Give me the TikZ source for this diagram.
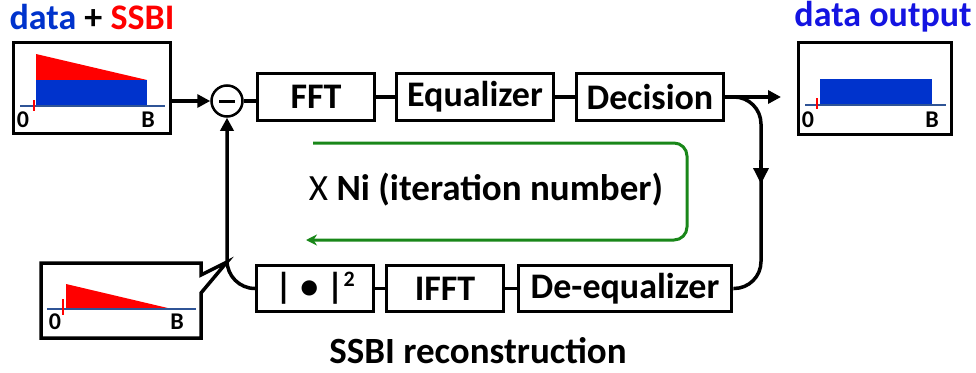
\documentclass[tikz,border=0pt]{standalone}
\usepackage{fontspec}
\setmainfont{Carlito}
\usetikzlibrary{arrows.meta}
\definecolor{dblue}{RGB}{0,51,204}
\definecolor{oblue}{RGB}{20,20,225}
\definecolor{axisc}{RGB}{47,84,150}
\definecolor{grn}{RGB}{25,135,25}
\begin{document}
\begin{tikzpicture}[x=1pt,y=-1pt,
  blk/.style={draw, line width=3.5pt, minimum height=47pt, inner sep=0pt, font=\fontsize{36}{40}\selectfont\bfseries},
  conn/.style={line width=3.5pt},
  bigarrow/.style={-{Triangle[length=13pt,width=13pt]}},
  plotbox/.style={draw, line width=3.5pt, inner sep=0pt},
  lbl/.style={font=\fontsize{24}{26}\selectfont\bfseries, inner sep=0pt},
  ttl/.style={font=\fontsize{36}{40}\selectfont\bfseries, inner sep=0pt},
  axisl/.style={axisc, line width=2.5pt},
  tick/.style={red, line width=1.5pt}
]
\useasboundingbox (0,0) rectangle (976,372);

% titles
\node[ttl] (t1) at (92,17) {\textcolor{dblue}{data} + \textcolor{red}{SSBI}};
\node[ttl, text=oblue] (t2) at (883,17) {data output};

% input spectrum box
\node[plotbox, minimum width=157pt, minimum height=91pt] (inbox) at (92,88) {};
\fill[red] (36,54) -- (147,80) -- (36,80) -- cycle;
\fill[dblue] (36,80) rectangle (147,106);
\draw[axisl] (20,106) -- (165,106);
\draw[tick] (34,100) -- (34,111);
\node[lbl] (i0) at (23,120) {0};
\node[lbl] (iB) at (148,120) {B};

% output spectrum box
\node[plotbox, minimum width=153pt, minimum height=92pt] (outbox) at (875,88.5) {};
\fill[dblue] (820,79) rectangle (932,105);
\draw[axisl] (805,105) -- (946,105);
\draw[tick] (817,98) -- (817,109);
\node[lbl] (o0) at (808,120) {0};
\node[lbl] (oB) at (932,120) {B};

% summing node
\node[circle, draw, line width=2.5pt, minimum size=31pt, inner sep=0pt] (sum) at (227,101) {\rule[-1.5pt]{16pt}{3pt}};

% top row
\node[blk, minimum width=117pt] (fft) at (316,97) {FFT};
\node[blk, minimum width=157pt] (eq) at (475,97) {Equalizer};
\node[blk, minimum width=147pt] (dec) at (650,97) {Decision};

% bottom row
\node[blk, minimum width=117pt, minimum height=46pt] (mag) at (315,288.5) {| • |\raisebox{12pt}{\fontsize{22}{22}\selectfont 2}};
\node[blk, minimum width=117pt, minimum height=46pt] (ifft) at (445,288.5) {IFFT};
\node[blk, minimum width=213pt, minimum height=46pt] (deq) at (625,288.5) {De-equalizer};

% connectors
\draw[conn, bigarrow] (inbox.east |- sum.west) -- (sum.west);
\draw[conn] (sum.east) -- (sum.east -| fft.west);
\draw[conn] (fft.east) -- (eq.west);
\draw[conn] (eq.east) -- (dec.west);
\coordinate (outtip) at (781,97);
\draw[conn, bigarrow] (dec.east) -- (outtip);
\coordinate (rc) at (761,200);
\draw[conn, rounded corners=27pt] (dec.east) -| (rc) |- (deq.east);
\coordinate (ah1) at (761,160);
\coordinate (ah2) at (761,184);
\draw[conn, -{Triangle[length=16pt,width=15pt]}] (ah1) -- (ah2);
\draw[conn] (deq.west) -- (ifft.east);
\draw[conn] (ifft.west) -- (mag.east);
\draw[conn, rounded corners=28pt, bigarrow] (mag.west) -| (sum.south);

% callout
\coordinate (tip) at (227,262);
\draw[line width=3.5pt, line join=miter] (41,263) -- (201,263) -- (201,275) -- (tip) -- (201,293) -- (201,338) -- (41,338) -- cycle;
\fill[red] (66,284) -- (172,309) -- (66,309) -- cycle;
\draw[axisl] (47,309) -- (196,309);
\draw[tick] (63,299) -- (63,315);
\node[lbl] (c0) at (55,322) {0};
\node[lbl] (cB) at (177,322) {B};

% iteration loop
\coordinate (g1) at (313,143);
\coordinate (g2) at (687,143);
\coordinate (g3) at (687,240);
\coordinate (g4) at (306,240);
\draw[grn, line width=3pt, rounded corners=13pt, -{Stealth[length=11pt,width=11pt]}] (g1) -- (g2) -- (g3) -- (g4);
\node[inner sep=0pt, font=\fontsize{37}{40}\selectfont] (iter) at (486,190) {X \textbf{Ni (iteration number)}};

\node[inner sep=0pt, font=\fontsize{37}{40}\selectfont\bfseries] (recon) at (478,351) {SSBI reconstruction};
\end{tikzpicture}
\end{document}
